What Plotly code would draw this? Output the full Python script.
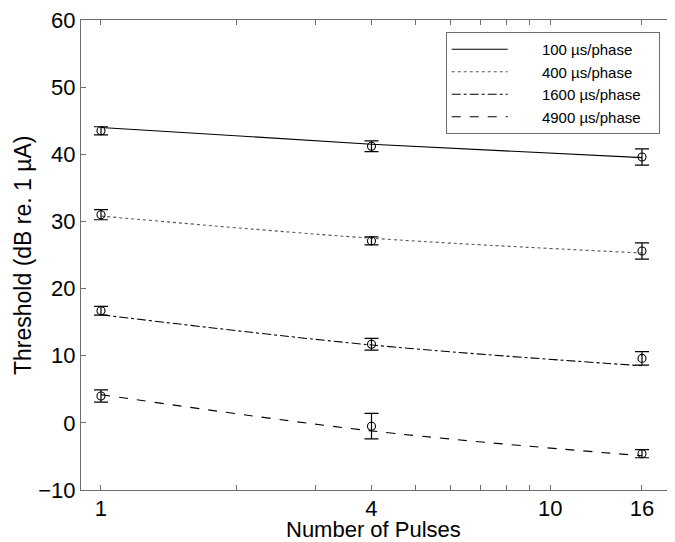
import plotly.graph_objects as go

# Data
pulses = [1, 4, 16]
series_names = ["100 µs/phase", "400 µs/phase", "1600 µs/phase", "4900 µs/phase"]
thr_100 = [43.5, 41.2, 39.6]
thr_400 = [31.0, 27.1, 25.6]
thr_1600 = [16.7, 11.7, 9.6]
thr_4900 = [4.0, -0.5, -4.6]
err_100 = [0.6, 0.8, 1.2]
err_400 = [0.75, 0.6, 1.2]
err_1600 = [0.65, 0.87, 1.0]
err_4900 = [0.9, 1.9, 0.6]
fit_100 = [44.0, 41.5, 39.5]
fit_400 = [30.8, 27.5, 25.3]
fit_1600 = [16.1, 11.6, 8.5]
fit_4900 = [4.2, -1.2, -4.9]

x_tickvals = [1, 2, 3, 4, 5, 6, 7, 8, 9, 10, 16]
x_ticktext = ["1", "", "", "4", "", "", "", "", "", "10", "16"]
y_tickvals = [-10, 0, 10, 20, 30, 40, 50, 60]
x_title = "Number of Pulses"
y_title = "Threshold (dB re. 1 µA)"

thr = [thr_100, thr_400, thr_1600, thr_4900]
err = [err_100, err_400, err_1600, err_4900]
fits = [fit_100, fit_400, fit_1600, fit_4900]
dashes = ["solid", "dot", "dashdot", "dash"]
line_colors = ["black", "#555555", "black", "black"]

FONT = "Liberation Sans, Arial, Helvetica, sans-serif"
AXC = "#6e6e6e"
PAD_L = "\u00a0" * 7
PAD_R = "\u00a0" * 3

# page body has an 8px margin; compensate so the plot lands where the reference has it
OFF = 8
W, H = 675 - OFF, 542 - OFF
ML, MT, MB = 81 - OFF, 20 - OFF, 52
PW = W - ML
PH = H - MT - MB

fig = go.Figure()
for name, f, d, c in zip(series_names, fits, dashes, line_colors):
    fig.add_trace(go.Scatter(
        x=pulses, y=f, mode="lines", name=PAD_L + name + PAD_R,
        line=dict(color=c, width=1.1, dash=d, shape="spline"),
    ))
for name, t, e in zip(series_names, thr, err):
    fig.add_trace(go.Scatter(
        x=pulses, y=t, mode="markers", showlegend=False, name=name,
        marker=dict(symbol="circle-open", size=8, color="black", line=dict(width=1.1)),
        error_y=dict(type="data", array=e, visible=True, color="black", thickness=1.2, width=7),
    ))

fig.update_layout(
    width=W, height=H,
    margin=dict(l=ML, r=0, t=MT, b=MB, pad=0),
    paper_bgcolor="white", plot_bgcolor="white",
    font=dict(family=FONT, color="black"),
    legend=dict(
        x=0.614, y=0.9745, xanchor="left", yanchor="top",
        bgcolor="white", bordercolor=AXC, borderwidth=1,
        font=dict(family=FONT, size=15, color="black"),
        itemwidth=56,
    ),
    annotations=[
        dict(text=x_title, xref="paper", yref="paper",
             x=(373 - OFF - ML) / PW, y=(MT + PH - (529 - OFF)) / PH,
             xanchor="center", yanchor="middle", showarrow=False,
             font=dict(family=FONT, size=22, color="black")),
        dict(text=y_title, xref="paper", yref="paper",
             x=(23 - OFF - ML) / PW, y=0.5,
             xanchor="center", yanchor="middle", showarrow=False, textangle=-90,
             font=dict(family=FONT, size=23, color="black")),
    ],
)
fig.update_xaxes(
    type="log", range=[-0.0445, 1.2776], automargin=False,
    tickmode="array", tickvals=x_tickvals, ticktext=x_ticktext,
    ticks="inside", ticklen=5, tickcolor=AXC, tickwidth=1,
    showline=True, linecolor=AXC, linewidth=1, mirror="ticks",
    showgrid=False, zeroline=False, ticklabeloverflow="allow",
    ticklabelstandoff=-1,
    tickfont=dict(family=FONT, size=22, color="black"),
)
fig.update_yaxes(
    range=[-10, 60], tickmode="array", tickvals=y_tickvals, automargin=False,
    ticks="inside", ticklen=5, tickcolor=AXC, tickwidth=1,
    showline=True, linecolor=AXC, linewidth=1, mirror="ticks",
    showgrid=False, zeroline=False, ticklabeloverflow="allow",
    tickfont=dict(family=FONT, size=22, color="black"),
)

fig.write_html("out.html")
